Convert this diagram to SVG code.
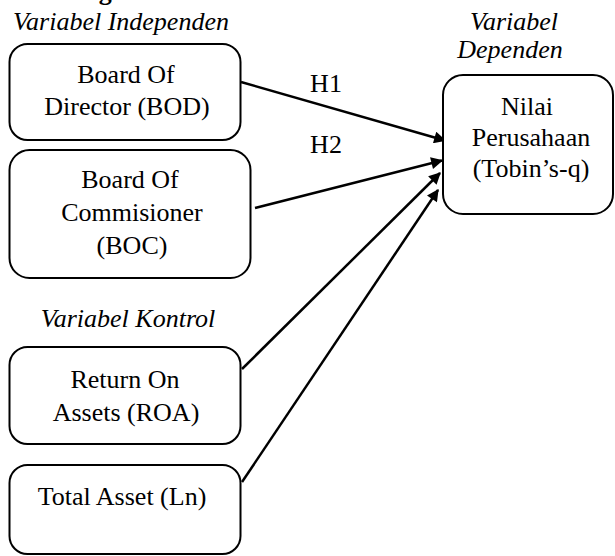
<svg xmlns="http://www.w3.org/2000/svg" width="615" height="556" viewBox="0 0 615 556" font-family="'Liberation Serif', 'Times New Roman', Times, serif">
<style>
text{font-family:'Liberation Serif','Times New Roman',Times,serif}
.box{fill:#fff;stroke:#000;stroke-width:2}
.t{font-size:26px;fill:#000;text-anchor:middle}
.i{font-style:italic}
.h{font-size:26px;font-weight:bold;fill:#000}
.c{stroke:#000;stroke-width:2.5;fill:none;marker-end:url(#ah)}
</style>
<defs>
<marker id="ah" viewBox="0 0 10 10" refX="9" refY="5" markerUnits="userSpaceOnUse" markerWidth="16" markerHeight="12" orient="auto">
<path d="M0,0 L10,5 L0,10 z" fill="#000"/>
</marker>
</defs>
<rect width="615" height="556" fill="#fff"/>
<text class="h" x="28" y="0">Kerangka Pemikiran</text>
<text class="t i" x="121" y="30">Variabel Independen</text>
<text class="t i" x="514" y="30">Variabel</text>
<text class="t i" x="510" y="58">Dependen</text>
<text class="t i" x="128" y="327">Variabel Kontrol</text>
<g id="connectors">
<line class="c" x1="241" y1="82" x2="445" y2="140.5"/>
<line class="c" x1="255" y1="208" x2="442" y2="160.5"/>
<line class="c" x1="242" y1="369" x2="440" y2="173"/>
<line class="c" x1="242" y1="482" x2="438" y2="190"/>
<text class="t" x="326" y="92">H1</text>
<text class="t" x="326" y="153">H2</text>
</g>
<g id="bod">
<rect class="box" x="9.5" y="44" width="231" height="96" rx="18"/>
<text class="t" x="126" y="83">Board Of</text>
<text class="t" x="127" y="115">Director (BOD)</text>
</g>
<g id="boc">
<rect class="box" x="9.5" y="150" width="241" height="128" rx="20"/>
<text class="t" x="130" y="188">Board Of</text>
<text class="t" x="132" y="221">Commisioner</text>
<text class="t" x="132" y="254">(BOC)</text>
</g>
<g id="roa">
<rect class="box" x="9.5" y="347" width="231" height="97" rx="18"/>
<text class="t" x="125" y="388">Return On</text>
<text class="t" x="126" y="421">Assets (ROA)</text>
</g>
<g id="ta">
<rect class="box" x="9.5" y="465" width="231" height="89" rx="18"/>
<text class="t" x="122" y="505">Total Asset (Ln)</text>
</g>
<g id="nilai">
<rect class="box" x="443" y="75" width="170" height="139" rx="20"/>
<text class="t" x="527" y="115">Nilai</text>
<text class="t" x="531" y="146">Perusahaan</text>
<text class="t" x="531" y="177">(Tobin’s-q)</text>
</g>
</svg>
